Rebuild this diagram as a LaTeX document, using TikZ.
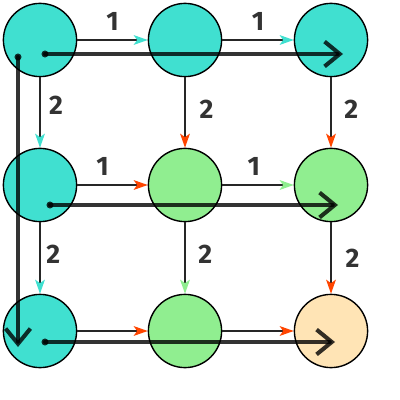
\documentclass[tikz,border=0pt]{standalone}
\usepackage{fontspec}
\newfontfamily\handfont{Fira Sans}
\usetikzlibrary{arrows.meta}
\definecolor{turq}{HTML}{40E0D0}
\definecolor{lgreen}{HTML}{90EE90}
\definecolor{peach}{HTML}{FFE4B5}
\definecolor{ored}{HTML}{FF4500}
\definecolor{ink}{HTML}{333333}
\begin{document}
\begin{tikzpicture}[x=0.025cm,y=-0.025cm,
    cell/.style={circle,draw,line width=1pt,fill=#1,minimum size=1.83cm,inner sep=0pt},
    link/.style={draw=black!85,line width=0.9pt,-{Stealth[length=10pt,width=7pt,inset=2.5pt,color=#1]}},
    cost/.style={text=ink,font=\handfont\bfseries\fontsize{19}{20}\selectfont,inner sep=1pt},
    walk/.style={line width=2.9pt,draw=black,draw opacity=0.8,line cap=round,
      -{Straight Barb[length=0.38cm,width=0.62cm,line width=2.9pt]}},
    start/.style={circle,fill=black,fill opacity=0.8,inner sep=0pt,minimum size=5pt}]
  \useasboundingbox (0,0) rectangle (400,400);
  % grid of states
  \node[cell=turq] (n11) at (40,40) {};
  \node[cell=turq] (n12) at (185,40) {};
  \node[cell=turq] (n13) at (331,40) {};
  \node[cell=turq] (n21) at (40,185) {};
  \node[cell=lgreen] (n22) at (185,185) {};
  \node[cell=lgreen] (n23) at (331,185) {};
  \node[cell=turq] (n31) at (40,331) {};
  \node[cell=lgreen] (n32) at (185,331) {};
  \node[cell=peach] (n33) at (331,331) {};
  % horizontal moves
  \draw[link=turq] (n11) -- node[cost,above=5pt] {1} (n12);
  \draw[link=turq] (n12) -- node[cost,above=5pt] {1} (n13);
  \draw[link=ored] (n21) -- node[cost,above=5pt,xshift=-7] {1} (n22);
  \draw[link=lgreen] (n22) -- node[cost,above=5pt,xshift=-3] {1} (n23);
  \draw[link=ored] (n31) -- (n32);
  \draw[link=ored] (n32) -- (n33);
  % vertical moves
  \draw[link=turq] (n11) -- node[cost,right=5pt,pos=0.4] {2} (n21);
  \draw[link=ored] (n12) -- node[cost,right=9pt,pos=0.45] {2} (n22);
  \draw[link=ored] (n13) -- node[cost,right=8pt,pos=0.45] {2} (n23);
  \draw[link=turq] (n21) -- node[cost,right=3pt,pos=0.45] {2} (n31);
  \draw[link=lgreen] (n22) -- node[cost,right=8pt,pos=0.45] {2} (n32);
  \draw[link=ored] (n23) -- node[cost,right=9pt,pos=0.5] {2} (n33);
  % sweeps
  \node[start] (s1) at (45,54) {};
  \node[start] (s2) at (18,57) {};
  \node[start] (s3) at (50,205) {};
  \node[start] (s4) at (45,342) {};
  \coordinate (e1) at (343,54);
  \coordinate (e2) at (18,347);
  \coordinate (e3) at (338,205);
  \coordinate (e4) at (335,342);
  \draw[walk] (s1.center) -- (e1);
  \draw[walk] (s2.center) -- (e2);
  \draw[walk] (s3.center) -- (e3);
  \draw[walk] (s4.center) -- (e4);
\end{tikzpicture}
\end{document}
